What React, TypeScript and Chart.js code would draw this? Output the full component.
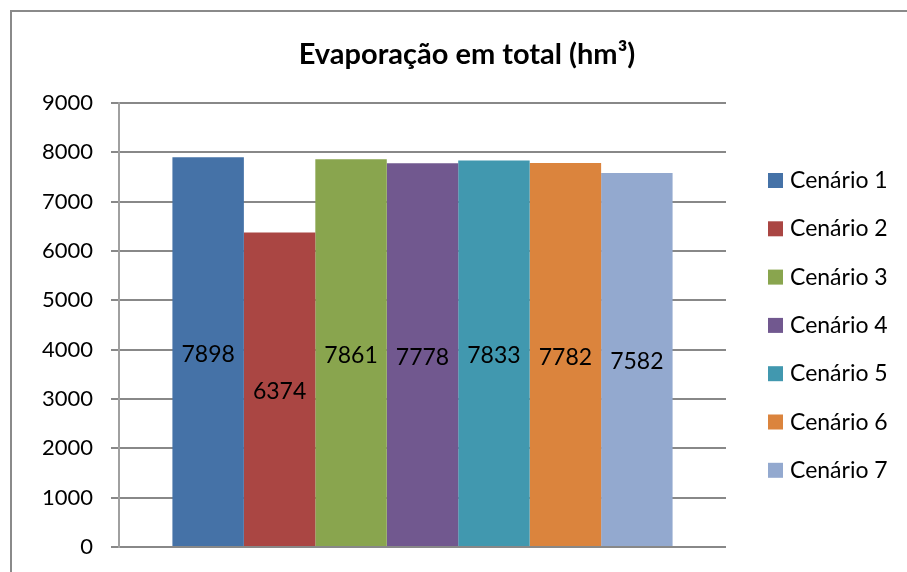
import React, { useEffect, useRef } from 'react';
import { Chart, registerables } from 'chart.js';

Chart.register(...registerables);

const chartTitle = 'Evaporação em total (hm³)';
const categories = [''];
const seriesNames = ['Cenário 1', 'Cenário 2', 'Cenário 3', 'Cenário 4', 'Cenário 5', 'Cenário 6', 'Cenário 7'];
const seriesValues = [7898, 6374, 7861, 7778, 7833, 7782, 7582];
const seriesColors = ['#4572A7', '#AA4643', '#89A54E', '#71588F', '#4198AF', '#DB843D', '#93A9CF'];
const yTickValues = [0, 1000, 2000, 3000, 4000, 5000, 6000, 7000, 8000, 9000];
const yTickLabels = ['0', '1000', '2000', '3000', '4000', '5000', '6000', '7000', '8000', '9000'];

const FONT = 'Lato, "Open Sans", sans-serif';

const decorPlugin = {
  id: 'decor',
  beforeDraw(chart: any) {
    const ctx = chart.ctx;
    ctx.save();
    ctx.fillStyle = '#ffffff';
    ctx.fillRect(0, 0, chart.width, chart.height);
    ctx.strokeStyle = '#8a8a8a';
    ctx.lineWidth = 2;
    ctx.strokeRect(11, 11, chart.width + 20, chart.height + 20);
    ctx.restore();
  },
  afterDatasetsDraw(chart: any) {
    const ctx = chart.ctx;
    ctx.save();
    ctx.font = `23px ${FONT}`;
    ctx.fillStyle = '#000000';
    ctx.textAlign = 'center';
    ctx.textBaseline = 'alphabetic';
    chart.data.datasets.forEach((ds: any, i: number) => {
      const meta = chart.getDatasetMeta(i);
      meta.data.forEach((bar: any, j: number) => {
        const v = ds.data[j];
        const mid = (bar.y + bar.base) / 2;
        ctx.fillText(String(v), bar.x, mid + 10);
      });
    });
    ctx.restore();
  },
  afterDraw(chart: any) {
    const ctx = chart.ctx;
    ctx.save();
    // title
    ctx.font = `bold 29px ${FONT}`;
    ctx.fillStyle = '#000000';
    ctx.textAlign = 'center';
    ctx.textBaseline = 'alphabetic';
    ctx.fillText(chartTitle, 467, 64);
    // legend
    const boxX = 768;
    const textX = 790;
    const firstTop = 173;
    const gap = 48.3;
    ctx.font = `23px ${FONT}`;
    ctx.textAlign = 'left';
    chart.data.datasets.forEach((ds: any, i: number) => {
      const top = firstTop + i * gap;
      ctx.fillStyle = ds.backgroundColor;
      ctx.fillRect(boxX, top, 15, 15);
      ctx.fillStyle = '#000000';
      ctx.fillText(ds.label, textX, top + 15);
    });
    ctx.restore();
  },
};

export default function App() {
  const canvasRef = useRef<HTMLCanvasElement | null>(null);

  useEffect(() => {
    if (!canvasRef.current) return;
    Chart.defaults.font.family = FONT;
    const chart = new Chart(canvasRef.current, {
      type: 'bar',
      data: {
        labels: categories,
        datasets: seriesNames.map((name, i) => ({
          label: name,
          data: [seriesValues[i]],
          backgroundColor: seriesColors[i],
          borderWidth: 0,
          categoryPercentage: 0.824,
          barPercentage: 1,
        })),
      },
      options: {
        responsive: false,
        animation: false,
        devicePixelRatio: 1,
        layout: { padding: { left: 0, top: 103, right: 181, bottom: 25 } },
        plugins: {
          legend: { display: false },
          title: { display: false },
          tooltip: { enabled: false },
        },
        scales: {
          x: { display: false },
          y: {
            min: yTickValues[0],
            max: yTickValues[yTickValues.length - 1],
            afterFit: (scale: any) => {
              scale.width = 119;
              scale.paddingTop = 0;
              scale.paddingBottom = 0;
            },
            afterBuildTicks: (scale: any) => {
              scale.ticks = yTickValues.map((v) => ({ value: v }));
            },
            ticks: {
              color: '#000000',
              padding: 18,
              font: { size: 22, family: FONT },
              callback: (value: any) => {
                const idx = yTickValues.indexOf(Number(value));
                return idx >= 0 ? yTickLabels[idx] : String(value);
              },
            },
            grid: { color: '#888888', lineWidth: 2, tickLength: 8 },
            border: { color: '#a0a0a0', width: 2 },
          },
        },
      },
      plugins: [decorPlugin],
    });
    return () => chart.destroy();
  }, []);

  return (
    <div style={{ position: 'fixed', left: 0, top: 0, width: 907, height: 572, background: '#fff' }}>
      <canvas ref={canvasRef} width={907} height={572} style={{ width: 907, height: 572, display: 'block' }} />
    </div>
  );
}
